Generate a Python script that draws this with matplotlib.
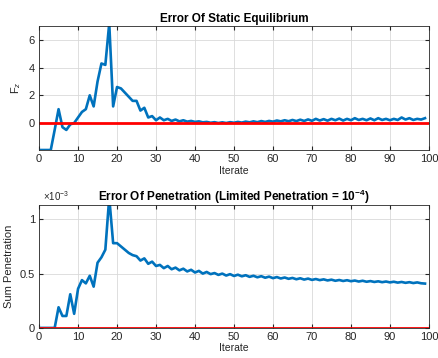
import matplotlib
matplotlib.use("Agg")
import matplotlib.pyplot as plt
import numpy as np

plt.rcParams['font.family'] = ['Liberation Sans', 'DejaVu Sans']
plt.rcParams['mathtext.fontset'] = 'custom'
plt.rcParams['mathtext.rm'] = 'Liberation Sans'
plt.rcParams['mathtext.it'] = 'Liberation Sans:italic'
plt.rcParams['mathtext.bf'] = 'Liberation Sans:bold'

iterations = list(range(0, 100))
force_error = [-1.95, -1.95, -1.95, -1.95, -0.5, 1.0, -0.3, -0.5, -0.1, 0.0,
               0.4, 0.8, 1.0, 2.0, 1.2, 3.0, 4.3, 4.2, 7.2, 1.2,
               2.6, 2.5, 2.2, 1.9, 1.6, 1.6, 0.9, 1.1, 0.4, 0.5,
               0.2, 0.4, 0.2, 0.3, 0.15, 0.25, 0.12, 0.2, 0.1, 0.15,
               0.08, 0.12, 0.05, 0.08, 0.02, 0.06, 0.0, 0.05, 0.0, 0.06,
               0.02, 0.08, 0.03, 0.1, 0.05, 0.12, 0.06, 0.14, 0.08, 0.15,
               0.1, 0.18, 0.12, 0.2, 0.13, 0.22, 0.14, 0.24, 0.15, 0.26,
               0.16, 0.3, 0.18, 0.28, 0.17, 0.3, 0.2, 0.32, 0.18, 0.3,
               0.2, 0.35, 0.22, 0.3, 0.2, 0.33, 0.2, 0.35, 0.22, 0.3,
               0.2, 0.3, 0.22, 0.4, 0.25, 0.35, 0.22, 0.3, 0.25, 0.35]
penetration_e3 = [0, 0, 0, 0, 0, 0.19, 0.11, 0.11, 0.31, 0.13,
                  0.36, 0.44, 0.41, 0.48, 0.38, 0.6, 0.65, 0.72, 1.2, 0.78,
                  0.78, 0.75, 0.72, 0.69, 0.67, 0.66, 0.62, 0.64, 0.59, 0.61,
                  0.57, 0.58, 0.55, 0.57, 0.54, 0.555, 0.53, 0.545, 0.52, 0.535,
                  0.51, 0.525, 0.50, 0.515, 0.495, 0.505, 0.488, 0.50, 0.482, 0.495,
                  0.478, 0.49, 0.475, 0.485, 0.47, 0.48, 0.466, 0.476, 0.462, 0.472,
                  0.458, 0.468, 0.455, 0.464, 0.452, 0.46, 0.448, 0.457, 0.445, 0.454,
                  0.442, 0.45, 0.44, 0.447, 0.437, 0.444, 0.434, 0.441, 0.432, 0.439,
                  0.43, 0.436, 0.427, 0.434, 0.425, 0.431, 0.423, 0.429, 0.421, 0.427,
                  0.419, 0.425, 0.417, 0.423, 0.415, 0.421, 0.413, 0.419, 0.411, 0.408]
penetration = [v * 1e-3 for v in penetration_e3]
ref_x = [0, 100]
ref_y = [0, 0]

blue = (0, 0.447, 0.741)
tick_col = (0.15, 0.15, 0.15)

fig = plt.figure(figsize=(4.39, 3.58), dpi=100)
ax1 = fig.add_axes([0.089, 0.581, 0.888, 0.346])
ax2 = fig.add_axes([0.089, 0.084, 0.888, 0.343])

for ax in (ax1, ax2):
    ax.grid(True, color=(0.85, 0.85, 0.85), linewidth=0.6)
    ax.set_axisbelow(True)
    ax.tick_params(direction='in', labelsize=8, colors=tick_col, length=3,
                   top=True, right=True, pad=3)
    for s in ax.spines.values():
        s.set_color(tick_col)
        s.set_linewidth(0.6)
    ax.set_xlim(0, 100)
    ax.set_xticks(range(0, 101, 10))

ax1.plot(iterations, force_error, color=blue, linewidth=1.9)
ax1.plot(ref_x, ref_y, color='red', linewidth=2)
ax1.set_ylim(-1.95, 7)
ax1.set_yticks([0, 2, 4, 6])
ax1.set_title('Error Of Static Equilibrium', fontsize=8.5, fontweight='bold', pad=3)
ax1.set_xlabel('Iterate', fontsize=7.5, color=tick_col, labelpad=1)
ax1.set_ylabel('F$_z$', fontsize=8, color=tick_col, labelpad=4)

ax2.plot(iterations, penetration, color=blue, linewidth=1.9)
ax2.plot(ref_x, ref_y, color='red', linewidth=2)
ax2.set_ylim(0, 1.13e-3)
ax2.set_yticks([0, 0.5e-3, 1e-3])
ax2.set_yticklabels(['0', '0.5', '1'])
ax2.set_title('Error Of Penetration (Limited Penetration = 10$^{\\mathbf{-4}}$)', fontsize=8.5,
              fontweight='bold', pad=3)
ax2.set_xlabel('Iterate', fontsize=7.5, color=tick_col, labelpad=1)
ax2.set_ylabel('Sum Penetration', fontsize=8, color=tick_col, labelpad=4)
ax2.text(0.01, 1.02, r'$\times10^{-3}$', transform=ax2.transAxes, fontsize=7,
         color=tick_col, ha='left', va='bottom')

fig.savefig('out.png', dpi=100)
